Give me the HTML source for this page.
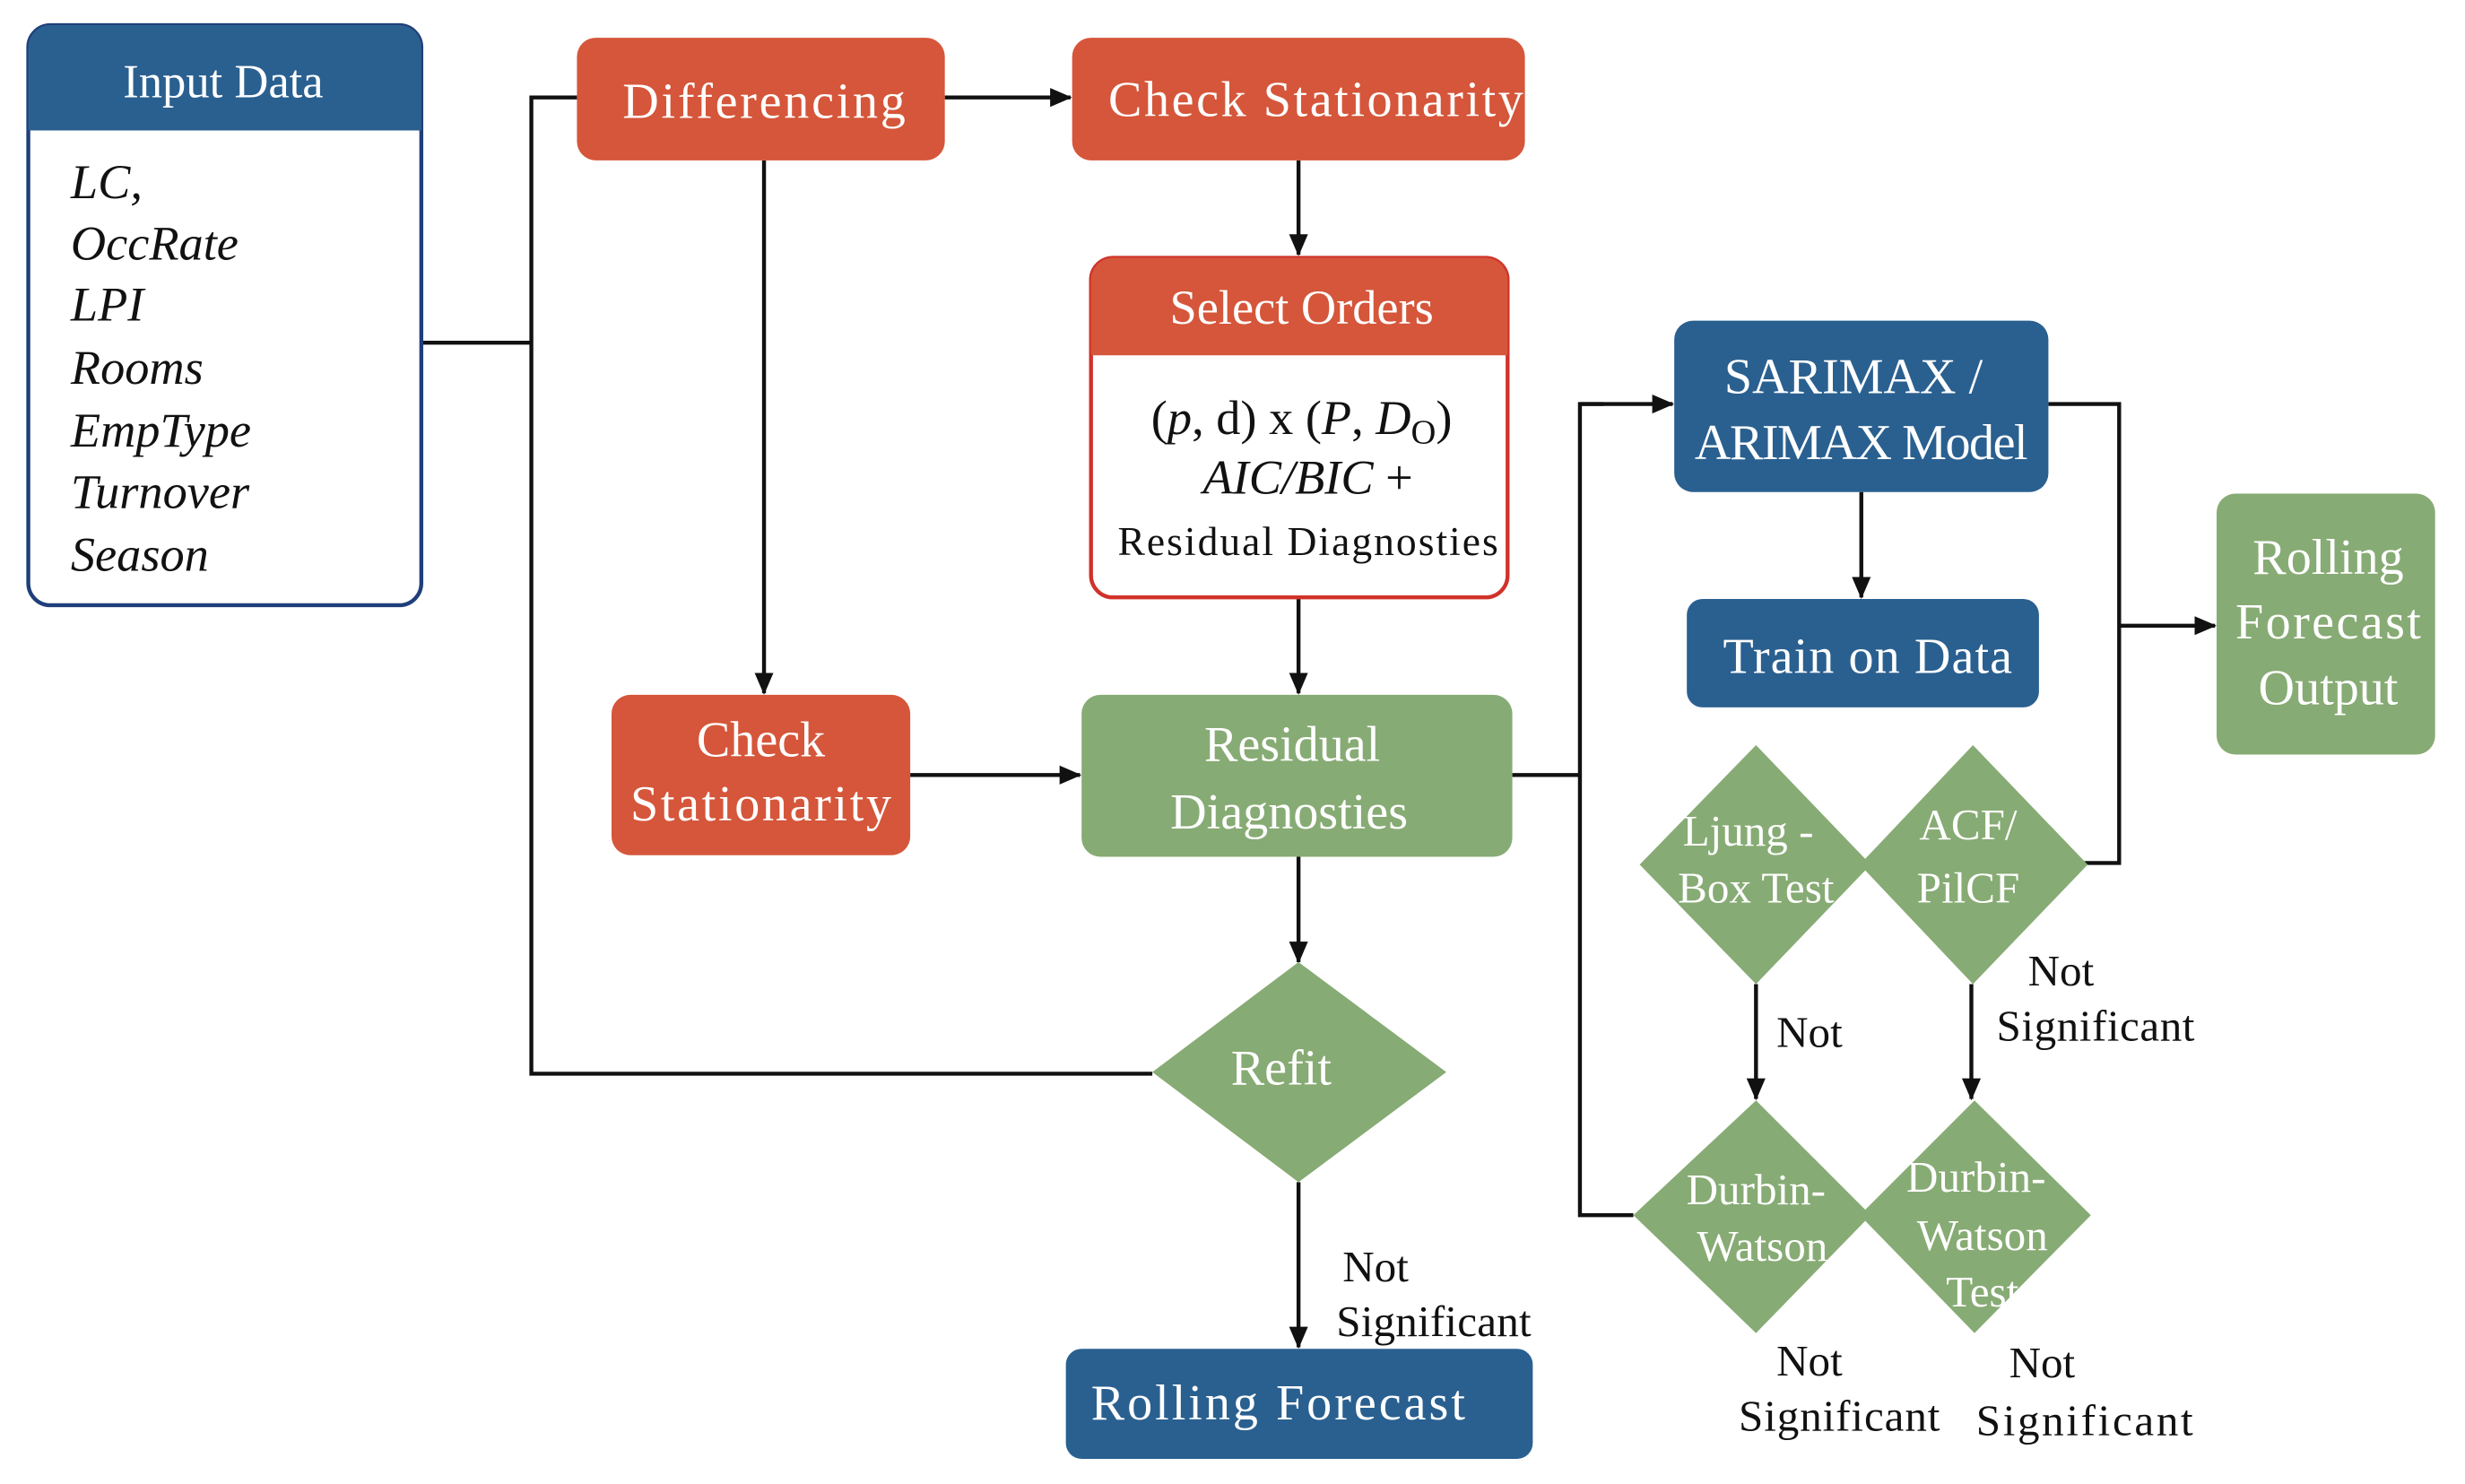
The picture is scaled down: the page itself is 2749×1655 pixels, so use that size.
<!DOCTYPE html>
<html><head><meta charset="utf-8"><style>
html,body{margin:0;padding:0;background:#fff;}
svg{display:block;font-family:"Liberation Serif","DejaVu Serif",serif;}
text{font-family:"Liberation Serif","DejaVu Serif",serif;}
.w{fill:#fff;}
.k{fill:#111;}
</style></head><body>
<svg width="2749" height="1655" viewBox="0 0 1568 944" preserveAspectRatio="none" xmlns="http://www.w3.org/2000/svg" font-family="Liberation Serif, serif">
<defs>
<marker id="a" markerWidth="14" markerHeight="14" refX="13" refY="7" orient="auto" markerUnits="userSpaceOnUse">
<path d="M0,1 L14,7 L0,13 z" fill="#111"/></marker>
</defs>
<g stroke="#111" stroke-width="2.5" fill="none">
<polyline points="268,218 338,218"/>
<polyline points="367,62 338,62 338,683 733,683"/>
<line x1="601" y1="62" x2="681" y2="62" marker-end="url(#a)"/>
<line x1="486" y1="102" x2="486" y2="441" marker-end="url(#a)"/>
<line x1="826" y1="102" x2="826" y2="162" marker-end="url(#a)"/>
<line x1="826" y1="380" x2="826" y2="441" marker-end="url(#a)"/>
<line x1="579" y1="493" x2="687" y2="493" marker-end="url(#a)"/>
<line x1="826" y1="545" x2="826" y2="612" marker-end="url(#a)"/>
<line x1="826" y1="752" x2="826" y2="857" marker-end="url(#a)"/>
<polyline points="962,493 1005,493"/>
<polyline points="1039,773 1005,773 1005,257 1020,257"/>
<line x1="1005" y1="257" x2="1064" y2="257" marker-end="url(#a)"/>
<line x1="1184" y1="313" x2="1184" y2="380" marker-end="url(#a)"/>
<polyline points="1303,257 1348,257 1348,549 1326,549"/>
<line x1="1348" y1="398" x2="1409" y2="398" marker-end="url(#a)"/>
<line x1="1117" y1="626" x2="1117" y2="699" marker-end="url(#a)"/>
<line x1="1254" y1="626" x2="1254" y2="699" marker-end="url(#a)"/>
</g>
<rect x="18" y="16" width="250" height="369" rx="14" fill="#fff" stroke="#1f3f7a" stroke-width="2.5"/>
<path d="M18,83 V30 a14,14 0 0 1 14,-14 H254 a14,14 0 0 1 14,14 V83 z" fill="#2a6090"/>
<g font-family="Liberation Serif, serif">
<text x="142" y="62" text-anchor="middle" class="w" font-size="30">Input Data</text>
<g font-style="italic" font-size="31" class="k">
<text x="45" y="126">LC,</text>
<text x="45" y="165">OccRate</text>
<text x="45" y="204">LPI</text>
<text x="45" y="244">Rooms</text>
<text x="45" y="284">EmpType</text>
<text x="45" y="323">Turnover</text>
<text x="45" y="363">Season</text>
</g>
</g>
<rect x="367" y="24" width="234" height="78" rx="12" fill="#d5563a"/>
<rect x="682" y="24" width="288" height="78" rx="12" fill="#d5563a"/>
<rect x="694" y="164" width="265" height="216" rx="14" fill="#fff" stroke="#d0322a" stroke-width="2.5"/>
<path d="M694,226 V178 a14,14 0 0 1 14,-14 H945 a14,14 0 0 1 14,14 V226 z" fill="#d5563a"/>
<rect x="389" y="442" width="190" height="102" rx="12" fill="#d5563a"/>
<rect x="688" y="442" width="274" height="103" rx="12" fill="#87ab74"/>
<polygon points="733,682 826,612 920,682 826,752" fill="#87ab74"/>
<rect x="1410" y="314" width="139" height="166" rx="12" fill="#87ab74"/>
<polygon points="1043,550 1117,474 1190,550 1117,626" fill="#87ab74"/>
<polygon points="1183,550 1255,474 1328,550 1255,626" fill="#87ab74"/>
<polygon points="1039,773 1117,700 1190,773 1117,848" fill="#87ab74"/>
<polygon points="1183,773 1256,700 1330,773 1256,848" fill="#87ab74"/>
<rect x="1065" y="204" width="238" height="109" rx="12" fill="#2a6090"/>
<rect x="1073" y="381" width="224" height="69" rx="10" fill="#2a6090"/>
<rect x="678" y="858" width="297" height="70" rx="10" fill="#2a6090"/>
<g font-family="Liberation Serif, serif">
<text x="486" y="75" text-anchor="middle" class="w" font-size="32" textLength="180">Differencing</text>
<text x="837" y="74" text-anchor="middle" class="w" font-size="32" textLength="264">Check Stationarity</text>
<text x="828" y="206" text-anchor="middle" class="w" font-size="31">Select Orders</text>
<text x="828" y="276" text-anchor="middle" class="k" font-size="31">(<tspan font-style="italic">p</tspan>, d)  x (<tspan font-style="italic">P</tspan>, <tspan font-style="italic">D</tspan><tspan font-size="22" dy="6">O</tspan><tspan dy="-6">)</tspan></text>
<text x="832" y="314" text-anchor="middle" class="k" font-size="31"><tspan font-style="italic">AIC/BIC</tspan> +</text>
<text x="832" y="353" text-anchor="middle" class="k" font-size="26" textLength="242">Residual Diagnosties</text>
<text x="484" y="481" text-anchor="middle" class="w" font-size="32">Check</text>
<text x="484" y="522" text-anchor="middle" class="w" font-size="32" textLength="166">Stationarity</text>
<text x="822" y="484" text-anchor="middle" class="w" font-size="32">Residual</text>
<text x="820" y="527" text-anchor="middle" class="w" font-size="32">Diagnosties</text>
<text x="815" y="690" text-anchor="middle" class="w" font-size="32">Refit</text>
<text x="1481" y="365" text-anchor="middle" class="w" font-size="32">Rolling</text>
<text x="1481" y="406" text-anchor="middle" class="w" font-size="32" textLength="118">Forecast</text>
<text x="1481" y="448" text-anchor="middle" class="w" font-size="32">Output</text>
<g class="w" font-size="28" text-anchor="middle">
<text x="1112" y="538">Ljung -</text>
<text x="1117" y="574">Box Test</text>
<text x="1252" y="534">ACF/</text>
<text x="1252" y="574">PilCF</text>
<text x="1117" y="766">Durbin-</text>
<text x="1121" y="802">Watson</text>
<text x="1257" y="758">Durbin-</text>
<text x="1261" y="795">Watson</text>
<text x="1261" y="831">Test</text>
</g>
<text x="1179" y="250" text-anchor="middle" class="w" font-size="32">SARIMAX /</text>
<text x="1184" y="292" text-anchor="middle" class="w" font-size="32" textLength="212">ARIMAX Model</text>
<text x="1188" y="428" text-anchor="middle" class="w" font-size="32" textLength="184">Train on Data</text>
<text x="813" y="903" text-anchor="middle" class="w" font-size="32" textLength="238">Rolling Forecast</text>
<g class="k" font-size="28">
<text x="854" y="815">Not</text>
<text x="850" y="850" textLength="124">Significant</text>
<text x="1130" y="666">Not</text>
<text x="1290" y="627">Not</text>
<text x="1270" y="662" textLength="126">Significant</text>
<text x="1130" y="875">Not</text>
<text x="1106" y="910" textLength="128">Significant</text>
<text x="1278" y="876">Not</text>
<text x="1257" y="913" textLength="138">Significant</text>
</g>
</g>
</svg>
</body></html>
